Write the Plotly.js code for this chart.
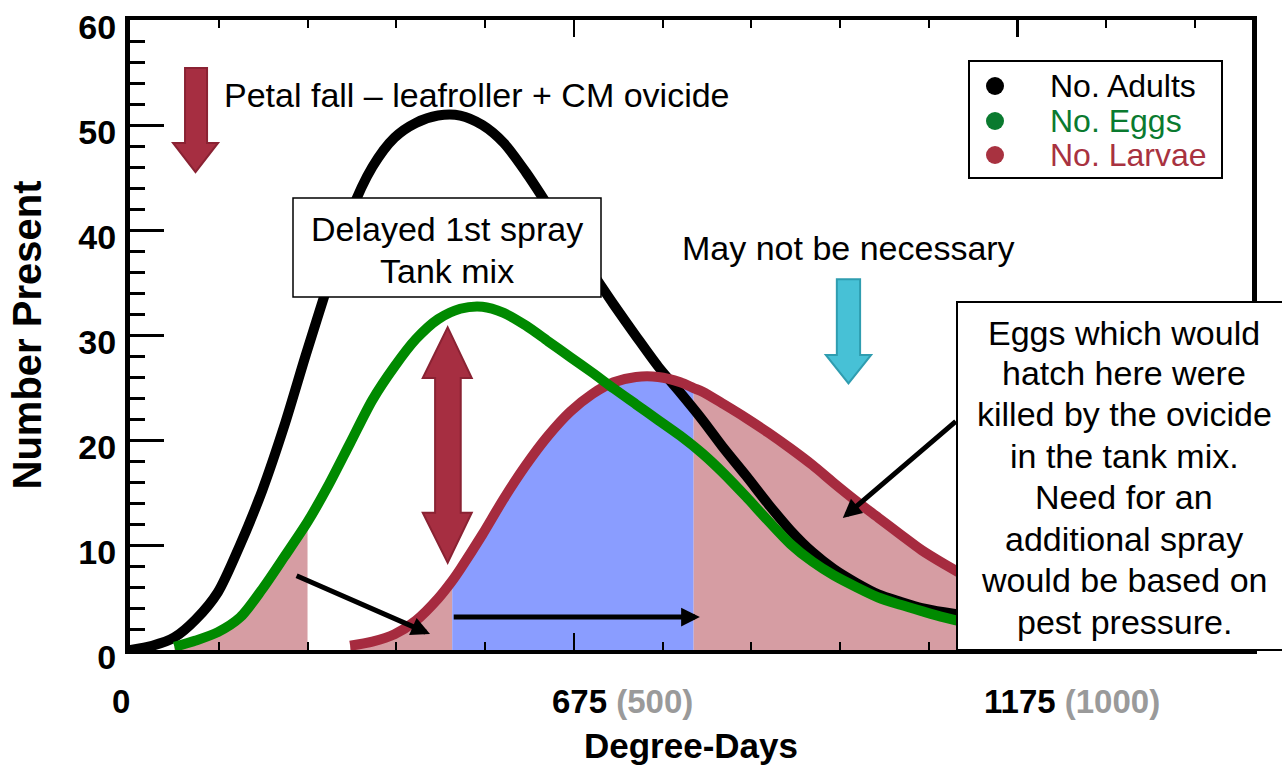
<!DOCTYPE html>
<html><head><meta charset="utf-8">
<script src="https://cdn.plot.ly/plotly-3.0.1.min.js"></script>
<style>html,body{margin:0;padding:0;background:#fff}#chart{width:1282px;height:765px}</style>
</head><body><div id="chart"></div>
<script>
// ---- data (x in axis degree-day units, y = number present) ----
const adultsX = [0, 25, 50, 74, 99, 124, 149, 174, 198, 223, 248, 273, 298, 322, 347, 372, 397, 421, 446, 471, 496, 521, 545, 570, 595, 620, 645, 669, 694, 719, 744, 769, 793, 818, 843, 868, 892, 917, 942, 967];
const adultsY = [0, 0.4, 1.2, 2.9, 5.5, 10.0, 15.2, 21.4, 28.1, 34.8, 41.5, 46.0, 48.8, 50.2, 50.9, 50.9, 50.0, 48.3, 45.5, 42.3, 39.0, 35.9, 32.9, 29.9, 27.0, 24.5, 21.9, 19.2, 16.6, 13.9, 11.4, 9.3, 7.7, 6.4, 5.3, 4.6, 4.0, 3.6, 3.3, 3.1];
const eggsX = [50, 74, 99, 124, 149, 174, 200, 223, 248, 273, 298, 322, 347, 372, 397, 421, 446, 471, 496, 521, 545, 570, 595, 620, 645, 669, 694, 719, 744, 769, 793, 818, 843, 868, 892, 917, 942, 967];
const eggsY = [0.3, 0.9, 1.7, 3.1, 5.8, 8.9, 12.2, 15.6, 19.7, 23.8, 27.0, 29.6, 31.5, 32.5, 32.7, 32.1, 30.9, 29.4, 27.9, 26.4, 24.9, 23.4, 21.9, 20.4, 18.7, 16.8, 14.6, 12.3, 10.1, 8.4, 7.1, 6.0, 5.0, 4.3, 3.7, 3.1, 2.6, 2.2];
const larvaeX = [248, 273, 298, 322, 347, 363, 372, 397, 421, 446, 471, 496, 521, 545, 570, 595, 620, 635, 645, 669, 694, 719, 744, 769, 793, 818, 843, 868, 892, 917, 942, 967];
const larvaeY = [0.4, 0.8, 1.5, 2.8, 4.9, 6.6, 7.7, 11.0, 14.4, 17.6, 20.4, 22.7, 24.4, 25.5, 26.0, 26.0, 25.5, 24.95, 24.6, 23.4, 22.1, 20.7, 19.2, 17.6, 15.9, 14.2, 12.6, 11.0, 9.5, 8.2, 7.0, 5.9];
const seriesNames = ['No. Adults', 'No. Eggs', 'No. Larvae'];
const fillBounds = [200, 363, 635];
const xRange = [0, 1264];
const xTickLabels = ['0', '675', '1175'];
const xTickAlt = ['', '(500)', '(1000)'];
const xTickPos = [-10, 555, 1061];
const eggsNote = ['Eggs which would', 'hatch here were', 'killed by the ovicide', 'in the tank mix.', 'Need for an', 'additional spray', 'would be based on', 'pest pressure.'];

// ---- styles ----
const FONT = 'Liberation Sans, Arial, Helvetica, sans-serif';
const C_ADULT = '#000000', C_EGG = '#008a00', C_LARVA = '#a62b3f';
const PINK = '#d69da3', BLUE = '#8a9dff';

function sliceRange(xs, ys, lo, hi) {
  const ox = [], oy = [];
  xs.forEach((x, i) => { if (x >= lo && x <= hi) { ox.push(x); oy.push(ys[i]); } });
  return {x: ox, y: oy};
}
function fillTrace(s, color) {
  return {type: 'scatter', mode: 'lines', x: s.x, y: s.y, fill: 'tozeroy', fillcolor: color,
          line: {width: 0, shape: 'spline', smoothing: 0.8}, hoverinfo: 'skip', showlegend: false};
}
const fills = [
  fillTrace(sliceRange(eggsX, eggsY, -Infinity, fillBounds[0]), PINK),
  fillTrace(sliceRange(larvaeX, larvaeY, -Infinity, fillBounds[1]), PINK),
  fillTrace(sliceRange(larvaeX, larvaeY, fillBounds[1], fillBounds[2]), BLUE),
  fillTrace(sliceRange(larvaeX, larvaeY, fillBounds[2], Infinity), PINK)
];
const lines = [
  {type: 'scatter', mode: 'lines', name: seriesNames[0], x: adultsX, y: adultsY, line: {color: C_ADULT, width: 10, shape: 'spline', smoothing: 0.8}, showlegend: false},
  {type: 'scatter', mode: 'lines', name: seriesNames[2], x: larvaeX, y: larvaeY, line: {color: C_LARVA, width: 10, shape: 'spline', smoothing: 0.8}, showlegend: false},
  {type: 'scatter', mode: 'lines', name: seriesNames[1], x: eggsX, y: eggsY, line: {color: C_EGG, width: 10, shape: 'spline', smoothing: 0.8}, showlegend: false}
];

const PW = 1122, PH = 630; // plot area size in px
const px = v => (v - 130) / PW;     // page px -> paper x
const py = v => (650 - v) / PH;     // page px -> paper y

const annotations = [];
// x tick labels
xTickLabels.forEach((t, i) => {
  annotations.push({xref: 'paper', yref: 'paper', x: (xTickPos[i] - xRange[0]) / (xRange[1] - xRange[0]), y: py(701), xanchor: 'center', yanchor: 'middle', showarrow: false,
    text: '<b>' + t + (xTickAlt[i] ? ' <span style="color:#9a9a9a">' + xTickAlt[i] + '</span>' : '') + '</b>',
    font: {family: FONT, size: 33, color: '#000'}});
});
// free text
annotations.push({xref: 'paper', yref: 'paper', x: px(222), y: py(95), xanchor: 'left', yanchor: 'middle', showarrow: false,
  text: 'Petal fall – leafroller + CM ovicide', font: {family: FONT, size: 34, color: '#000'}});
annotations.push({xref: 'paper', yref: 'paper', x: px(848), y: py(248), xanchor: 'center', yanchor: 'middle', showarrow: false,
  text: 'May not be necessary', font: {family: FONT, size: 34, color: '#000'}});
['Delayed 1st spray', 'Tank mix'].forEach((t, i) => {
  annotations.push({xref: 'paper', yref: 'paper', x: px(447), y: py([229, 271][i]), xanchor: 'center', yanchor: 'middle', showarrow: false,
    text: t, font: {family: FONT, size: 34, color: '#000'}});
});
const eggLineY = [333, 373, 414, 456, 497, 539, 580, 622];
eggsNote.forEach((t, i) => {
  annotations.push({xref: 'paper', yref: 'paper', x: px(1124), y: py(eggLineY[i]), xanchor: 'center', yanchor: 'middle', showarrow: false,
    text: t, font: {family: FONT, size: 34, color: '#000'}});
});
// custom legend text
const legColors = [C_ADULT, '#0a7a2f', '#a83240'];
const legY = [86, 121, 155];
seriesNames.forEach((n, i) => {
  annotations.push({xref: 'paper', yref: 'paper', x: px(1048), y: py(legY[i]), xanchor: 'left', yanchor: 'middle', showarrow: false,
    text: n, font: {family: FONT, size: 32, color: legColors[i]}});
});
// black arrows
[[338, 1.52, 186, 7.14], [642, 3.14, 363, 3.14], [803, 12.57, 932, 21.9]].forEach(a => {
  annotations.push({xref: 'x', yref: 'y', axref: 'x', ayref: 'y', x: a[0], y: a[1], ax: a[2], ay: a[3], text: '',
    showarrow: true, arrowhead: 2, arrowsize: 0.75, arrowwidth: 5, arrowcolor: '#000', standoff: 0, startstandoff: 0});
});

const shapes = [
  // petal-fall arrow
  {type: 'path', xref: 'x', yref: 'y', path: 'M 62,55.43 L 86.8,55.43 L 86.8,48.29 L 99.2,48.29 L 73.8,45.52 L 48.5,48.29 L 62,48.29 Z',
   fillcolor: '#a62e41', line: {color: '#8a2233', width: 2}},
  // double arrow
  {type: 'path', xref: 'x', yref: 'y', path: 'M 357.9,30.73 L 385,25.9 L 372.6,25.9 L 372.6,13.08 L 385,13.08 L 357.9,8.31 L 329.8,13.08 L 343.7,13.08 L 343.7,25.9 L 329.8,25.9 Z',
   fillcolor: '#a62e41', line: {color: '#8a2233', width: 2}},
  // cyan arrow
  {type: 'path', xref: 'x', yref: 'y', path: 'M 796.3,35.3 L 822.5,35.3 L 822.5,28.1 L 834.9,28.1 L 809.4,25.4 L 783.9,28.1 L 796.3,28.1 Z',
   fillcolor: '#47c1d6', line: {color: '#2f9db0', width: 2}},
  // delayed spray box
  {type: 'rect', xref: 'paper', yref: 'paper', x0: px(293), x1: px(601), y0: py(297), y1: py(198), fillcolor: '#fff', line: {color: '#000', width: 1.5}},
  // eggs note box
  {type: 'rect', xref: 'paper', yref: 'paper', x0: px(957), x1: px(1295), y0: py(650), y1: py(302), fillcolor: '#fff', line: {color: '#000', width: 2}},
  // legend box
  {type: 'rect', xref: 'paper', yref: 'paper', x0: px(969), x1: px(1222), y0: py(178), y1: py(61), fillcolor: '#fff', line: {color: '#000', width: 2}}
];
legY.forEach((yy, i) => {
  shapes.push({type: 'circle', xref: 'paper', yref: 'paper', xsizemode: 'pixel', ysizemode: 'pixel', xanchor: px(995), yanchor: py(yy),
    x0: -9, x1: 9, y0: -9, y1: 9, fillcolor: legColors[i], line: {width: 0}});
});

const layout = {
  width: 1282, height: 765,
  margin: {l: 130, r: 30, t: 20, b: 115},
  paper_bgcolor: '#fff', plot_bgcolor: '#fff',
  showlegend: false,
  xaxis: {
    range: xRange, showgrid: false, zeroline: false,
    showline: true, linecolor: '#000', linewidth: 4, mirror: 'allticks',
    ticks: 'inside', tick0: 0, dtick: 500, ticklen: 17, tickwidth: 2.5, tickcolor: '#000',
    minor: {dtick: 100, ticks: 'inside', ticklen: 8, tickwidth: 2, tickcolor: '#000'},
    showticklabels: false,
    title: {text: 'Degree-Days', font: {family: FONT, size: 35, color: '#000', weight: 'bold'}, standoff: 84}
  },
  yaxis: {
    range: [0, 60], showgrid: false, zeroline: false,
    showline: true, linecolor: '#000', linewidth: 5, mirror: true,
    ticks: 'inside', tickvals: [0, 10, 20, 30, 40, 50, 60], ticklen: 34, tickwidth: 3, tickcolor: '#000',
    minor: {dtick: 2, ticks: 'inside', ticklen: 15, tickwidth: 3, tickcolor: '#000'},
    tickfont: {family: FONT, size: 34, color: '#000', weight: 'bold'},
    ticklabelstandoff: 2, ticklabelshift: 7, ticklabeloverflow: 'allow',
    title: {text: 'Number Present', font: {family: FONT, size: 40, color: '#000', weight: 'bold'}, standoff: 26}
  },
  shapes: shapes,
  annotations: annotations
};

Plotly.newPlot('chart', fills.concat(lines), layout, {displayModeBar: false, staticPlot: true});
</script></body></html>
